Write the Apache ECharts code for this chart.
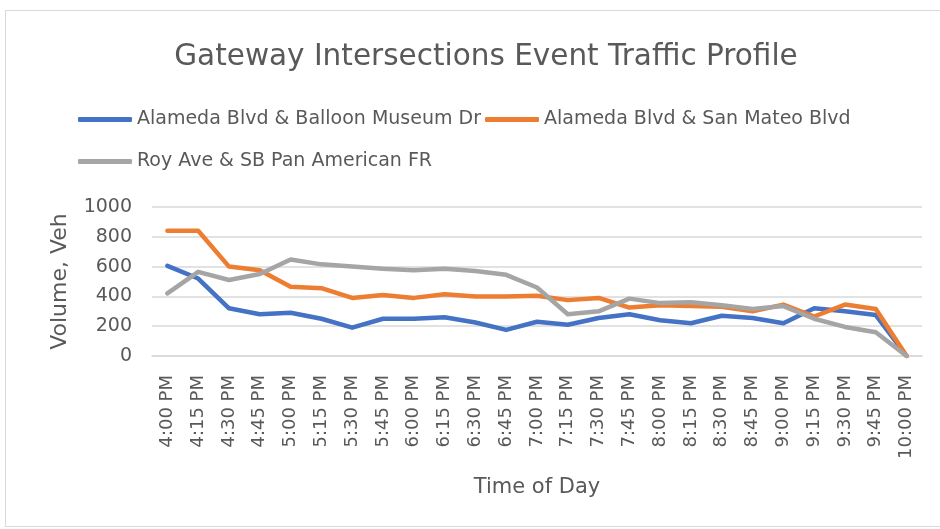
<!DOCTYPE html>
<html>
<head>
<meta charset="utf-8">
<script src="https://cdn.jsdelivr.net/npm/echarts@6/dist/echarts.min.js"></script>
<style>
html,body{margin:0;padding:0;background:#fff;}
#chart{width:940px;height:529px;}
</style>
</head>
<body>
<div id="chart"></div>
<script>
var categories = ['4:00 PM','4:15 PM','4:30 PM','4:45 PM','5:00 PM','5:15 PM','5:30 PM','5:45 PM','6:00 PM','6:15 PM','6:30 PM','6:45 PM','7:00 PM','7:15 PM','7:30 PM','7:45 PM','8:00 PM','8:15 PM','8:30 PM','8:45 PM','9:00 PM','9:15 PM','9:30 PM','9:45 PM','10:00 PM'];
var balloonMuseum = [605,520,320,280,290,250,190,250,250,260,225,175,230,210,255,280,240,220,270,255,220,320,300,275,0];
var sanMateo = [840,840,600,575,465,455,390,410,390,415,400,400,405,375,390,325,340,335,330,300,345,265,345,315,0];
var royAve = [420,565,510,550,648,615,600,585,575,585,570,545,460,280,300,385,355,360,340,315,335,250,195,160,0];
var seriesNames = ['Alameda Blvd & Balloon Museum Dr','Alameda Blvd & San Mateo Blvd','Roy Ave & SB Pan American FR'];
var yTicks = [0,200,400,600,800,1000];

var FONT = 'DejaVu Sans';
var TXT = '#595959';
var chart = echarts.init(document.getElementById('chart'));
function mk(name, data, color){
  return {name:name,type:'line',data:data,symbol:'none',smooth:false,
    lineStyle:{width:4.5,color:color,cap:'round',join:'round'},itemStyle:{color:color}};
}
chart.setOption({
  animation:false,
  backgroundColor:'#fff',
  graphic:[{type:'rect',shape:{x:5.5,y:10.5,width:940,height:516},style:{fill:'none',stroke:'#d9d9d9',lineWidth:1}}],
  title:{text:'Gateway Intersections Event Traffic Profile',left:481,top:37,textAlign:'center',
    textStyle:{fontFamily:FONT,fontSize:29.5,fontWeight:'normal',color:TXT}},
  legend:[{data:[seriesNames[0],seriesNames[1]],left:73,top:105,itemWidth:54,itemHeight:5,itemGap:4,icon:'roundRect',
      textStyle:{fontFamily:FONT,fontSize:19,color:TXT}},
    {data:[seriesNames[2]],left:73,top:147,itemWidth:54,itemHeight:5,icon:'roundRect',
      textStyle:{fontFamily:FONT,fontSize:19,color:TXT}}],
  grid:{left:152,right:18,top:207,bottom:173,containLabel:false},
  xAxis:{type:'category',data:categories,boundaryGap:true,
    name:'Time of Day',nameLocation:'middle',nameGap:121,
    nameTextStyle:{fontFamily:FONT,fontSize:21,color:TXT},
    axisLine:{lineStyle:{color:'#d9d9d9',width:1.5}},axisTick:{show:false},
    axisLabel:{rotate:90,interval:0,margin:19,fontFamily:FONT,fontSize:18,color:TXT}},
  yAxis:{type:'value',min:0,max:1000,interval:200,
    name:'Volume, Veh',nameLocation:'middle',nameGap:81,
    nameTextStyle:{fontFamily:FONT,fontSize:22,color:TXT},
    axisLine:{show:false},axisTick:{show:false},
    splitLine:{lineStyle:{color:'#d9d9d9',width:1.5}},
    axisLabel:{margin:20,fontFamily:FONT,fontSize:19,color:TXT,
      formatter:function(v){return yTicks.indexOf(v)>=0?String(v):'';}}},
  series:[mk(seriesNames[0],balloonMuseum,'#4472C4'),mk(seriesNames[1],sanMateo,'#ED7D31'),mk(seriesNames[2],royAve,'#A5A5A5')]
});
</script>
</body>
</html>
